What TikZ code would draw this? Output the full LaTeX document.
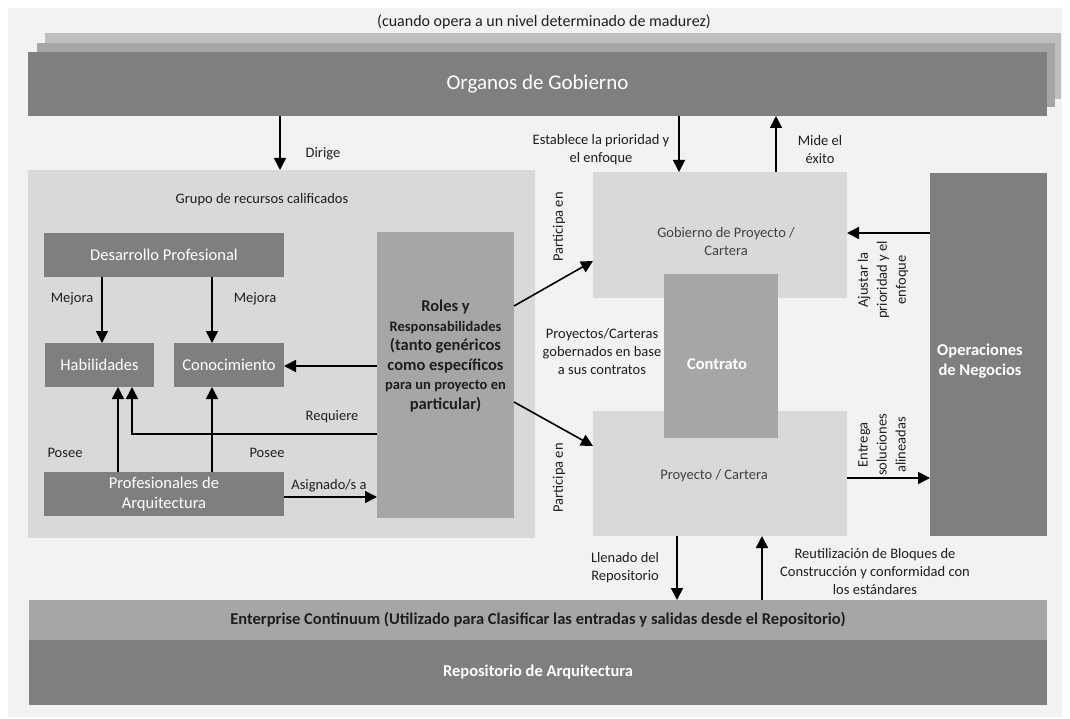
\documentclass[tikz,border=0pt]{standalone}
\usepackage{fontspec}
\setmainfont{Carlito}
\usetikzlibrary{arrows.meta}

\definecolor{paper}{HTML}{F2F2F2}
\definecolor{dark}{HTML}{7F7F7F}
\definecolor{mid}{HTML}{A6A6A6}
\definecolor{pale}{HTML}{D9D9D9}
\definecolor{stack}{HTML}{BFBFBF}
\definecolor{ink}{HTML}{1E1E1E}

\newcommand\fsz[2]{\fontsize{#1}{#2}\selectfont}

\tikzset{
  box/.style={inner sep=0pt, outer sep=0pt, draw=none, align=center},
  darkbox/.style={box, fill=dark, text=white},
  midbox/.style={box, fill=mid},
  palebox/.style={box, fill=pale, text=ink},
  lbl/.style={text=ink, align=center, font=\fsz{14.5}{18}, inner sep=0pt},
  arr/.style={draw=black, line width=1.6pt, -{Triangle[width=12pt,length=12pt]}},
}

\begin{document}
\begin{tikzpicture}[x=1pt, y=-1pt]
\useasboundingbox (0,0) rectangle (1070,719);
\fill[white] (0,0) rectangle (1070,719);
\fill[paper] (8,8) rectangle (1062,717);

% heading
\node[lbl, font=\fsz{16}{19}] (titulo) at (544,22) {(cuando opera a un nivel determinado de madurez)};

% stacked governance bodies
\fill[stack] (45,33) rectangle (1061,99);
\fill[mid] (37,43) rectangle (1055,107);
\node[darkbox, minimum width=1019pt, minimum height=64pt, font=\fsz{21}{24}] (organos) at (537.5,84) {Organos de Gobierno};

% pool of qualified resources
\node[palebox, minimum width=507pt, minimum height=368pt] (grupo) at (281.5,354) {};
\node[lbl] (grupotit) at (262,200) {Grupo de recursos calificados};

\node[darkbox, minimum width=240pt, minimum height=44pt, font=\fsz{16.5}{20}] (desarrollo) at (164,255) {Desarrollo Profesional};
\node[darkbox, minimum width=109pt, minimum height=44pt, font=\fsz{16.5}{20}] (habil) at (99.5,365) {Habilidades};
\node[darkbox, minimum width=110pt, minimum height=44pt, font=\fsz{16.5}{20}] (conoc) at (229,365) {Conocimiento};
\node[darkbox, minimum width=240pt, minimum height=44pt, font=\fsz{16.5}{20}] (profes) at (164,494) {Profesionales de\\Arquitectura};

\node[midbox, minimum width=137pt, minimum height=286pt] (roles) at (445.5,375) {};
\node[box, text=ink, font=\bfseries\fsz{16.5}{19.5}] (rolestxt) at (445.5,356)
  {Roles y\\{\fsz{14.5}{19.5}Responsabilidades}\\(tanto genéricos\\como específicos\\{\fsz{14.5}{19.5}para un proyecto en}\\particular)};

% project side
\node[palebox, minimum width=254pt, minimum height=126pt] (gob) at (720,235) {};
\node[lbl, text=ink!85] (gobtxt) at (726,242) {Gobierno de Proyecto /\\Cartera};
\node[palebox, minimum width=254pt, minimum height=125pt] (proy) at (720,473.5) {};
\node[lbl, text=ink!85] (proytxt) at (714,476) {Proyecto / Cartera};
\node[midbox, minimum width=114pt, minimum height=164pt] (contrato) at (721,356) {};
\node[box, text=white, font=\bfseries\fsz{16.5}{20}] (contratotxt) at (717,364) {Contrato};

\node[darkbox, minimum width=117pt, minimum height=363pt] (oper) at (988.5,354.5) {};
\node[box, text=white, font=\bfseries\fsz{16.5}{20}] (opertxt) at (980,361) {Operaciones\\de Negocios};

% repository layers
\node[midbox, minimum width=1018pt, minimum height=40pt, text=ink, font=\bfseries\fsz{16.5}{19}] (enterprise) at (538,620)
  {Enterprise Continuum (Utilizado para Clasificar las entradas y salidas desde el Repositorio)};
\node[darkbox, minimum width=1018pt, minimum height=65pt, font=\bfseries\fsz{16.5}{19}] (repo) at (538,672.5) {Repositorio de Arquitectura};

% connectors
\draw[arr] (280,0 |- organos.south) -- (280,0 |- grupo.north);
\draw[arr] (679,0 |- organos.south) -- (679,0 |- gob.north);
\draw[arr] (776,0 |- gob.north) -- (776,0 |- organos.south);
\draw[arr] (102,0 |- desarrollo.south) -- (102,0 |- habil.north);
\draw[arr] (212,0 |- desarrollo.south) -- (212,0 |- conoc.north);
\draw[arr] (roles.west |- 0,366) -- (conoc.east |- 0,366);
\draw[arr] (roles.west |- 0,434) -| (132,0 |- habil.south);
\draw[arr] (118,0 |- profes.north) -- (118,0 |- habil.south);
\draw[arr] (212,0 |- profes.north) -- (212,0 |- conoc.south);
\draw[arr] (profes.east |- 0,497) -- (roles.west |- 0,497);
\draw[arr] (roles.east |- 0,306) -- (gob.west |- 0,261);
\draw[arr] (roles.east |- 0,402) -- (proy.west |- 0,446);
\draw[arr] (oper.west |- 0,233) -- (gob.east |- 0,233);
\draw[arr] (proy.east |- 0,478) -- (oper.west |- 0,478);
\draw[arr] (677,0 |- proy.south) -- (677,0 |- enterprise.north);
\draw[arr] (762,0 |- enterprise.north) -- (762,0 |- proy.south);

% connector labels
\node[lbl] (ldirige) at (323,154) {Dirige};
\node[lbl] (lestablece) at (601,150) {Establece la prioridad y\\el enfoque};
\node[lbl] (lmide) at (820,150) {Mide el\\éxito};
\node[lbl] (lmejora1) at (72,299) {Mejora};
\node[lbl] (lmejora2) at (255,299) {Mejora};
\node[lbl] (lrequiere) at (332,417) {Requiere};
\node[lbl] (lposee1) at (65,453) {Posee};
\node[lbl] (lposee2) at (267,453) {Posee};
\node[lbl] (lasignado) at (329,486) {Asignado/s a};
\node[lbl, rotate=90] (lparticipa1) at (559,227) {Participa en};
\node[lbl, rotate=90] (lparticipa2) at (559,478) {Participa en};
\node[lbl] (lcontratos) at (602,352) {Proyectos/Carteras\\gobernados en base\\a sus contratos};
\node[lbl, rotate=90, font=\fsz{14.5}{19}] (lajustar) at (883,280) {Ajustar la\\prioridad y el\\enfoque};
\node[lbl, rotate=90, font=\fsz{14.5}{19}] (lentrega) at (882,445) {Entrega\\soluciones\\alineadas};
\node[lbl] (lllenado) at (625,568) {Llenado del\\Repositorio};
\node[lbl] (lreutil) at (875,572) {Reutilización de Bloques de\\Construcción y conformidad con\\los estándares};
\end{tikzpicture}
\end{document}
